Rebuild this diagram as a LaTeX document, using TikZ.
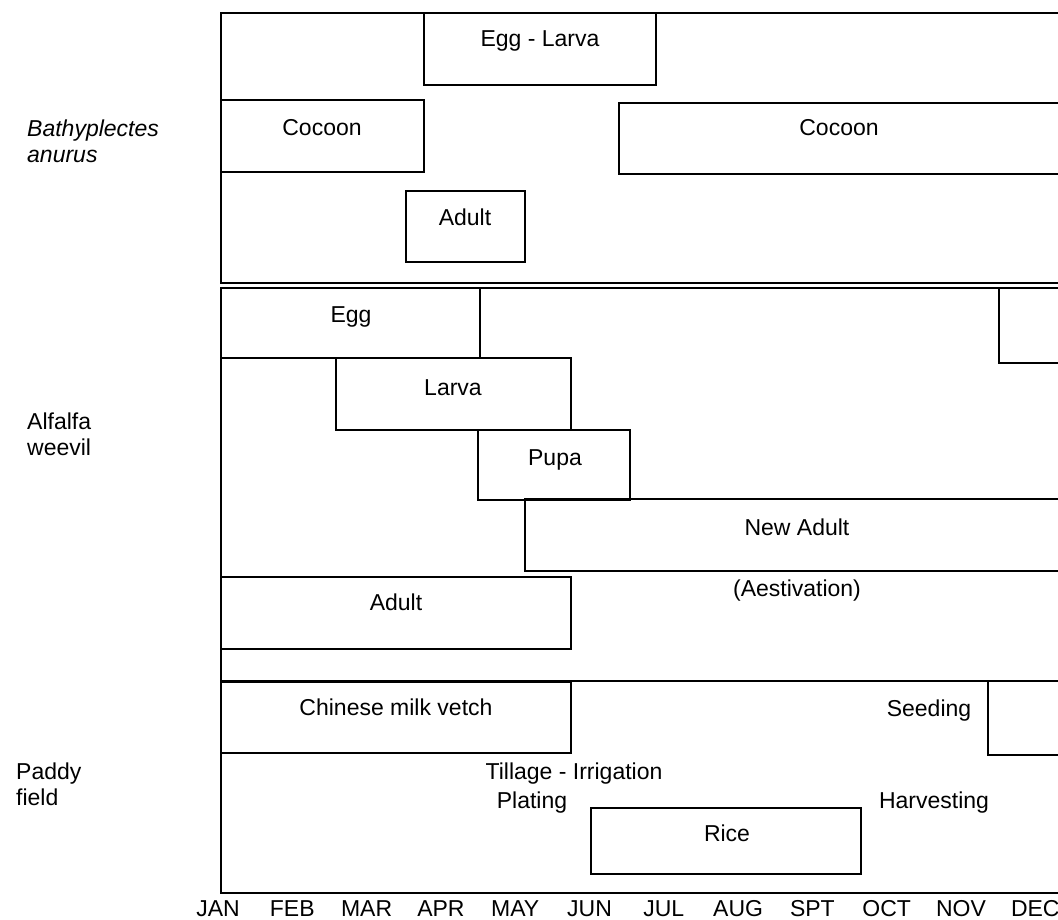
\documentclass[tikz,border=0pt]{standalone}
\usepackage{fontspec}
\setmainfont{Liberation Sans}
\begin{document}
\begin{tikzpicture}[x=1pt,y=-1pt,
  bar/.style={draw=black,line width=1.8pt},
  frame/.style={draw=black,line width=2pt},
  lbl/.style={anchor=base,inner sep=0pt,font=\fontsize{23}{26}\selectfont},
  side/.style={anchor=base west,inner sep=0pt,align=left,font=\fontsize{23}{26}\selectfont},
  month/.style={anchor=base,inner sep=0pt,font=\fontsize{23}{26}\selectfont}]
\useasboundingbox (0,0) rectangle (1058,920);
\clip (0,0) rectangle (1058,920);
% outer frames
\draw[frame] (221,13) rectangle (1075,283);
\draw[frame] (221,288) rectangle (1075,681);
\draw[frame] (221,681) rectangle (1075,893);
% Bathyplectes anurus
\draw[bar] (424,13) rectangle (656,85);
\draw[bar] (221,100) rectangle (424,172);
\draw[bar] (619,103) rectangle (1075,174);
\draw[bar] (406,191) rectangle (525,262);
\node[lbl] (eggLarva) at (540,47) {Egg - Larva};
\node[lbl] (cocoonA) at (322,136) {Cocoon};
\node[lbl] (cocoonB) at (839,136) {Cocoon};
\node[lbl] (adultB) at (465,226) {Adult};
% Alfalfa weevil
\draw[bar] (221,288) rectangle (480,358);
\draw[bar] (999,288) rectangle (1075,363);
\draw[bar] (336,358) rectangle (571,430);
\draw[bar] (478,430) rectangle (630,500);
\draw[bar] (525,499) rectangle (1075,571);
\draw[bar] (221,577) rectangle (571,649);
\node[lbl] (egg) at (351,322) {Egg};
\node[lbl] (larva) at (453,395) {Larva};
\node[lbl] (pupa) at (555,465) {Pupa};
\node[lbl] (newAdult) at (797,535) {New Adult};
\node[lbl] (aest) at (797,596) {(Aestivation)};
\node[lbl] (adultA) at (396,610) {Adult};
% Paddy field
\draw[bar] (221,682) rectangle (571,753);
\draw[bar] (988,681) rectangle (1075,755);
\draw[bar] (591,808) rectangle (861,874);
\node[lbl] (vetch) at (396,715) {Chinese milk vetch};
\node[lbl] (seeding) at (929,716) {Seeding};
\node[lbl] (tillage) at (574,779) {Tillage - Irrigation};
\node[lbl] (plating) at (532,808) {Plating};
\node[lbl] (rice) at (727,841) {Rice};
\node[lbl] (harvest) at (934,808) {Harvesting};
% side labels (base = baseline of last line)
\node[side] (bath) at (27,163) {\itshape Bathyplectes\\\itshape anurus};
\node[side] (alf) at (27,455) {Alfalfa\\weevil};
\node[side] (pad) at (16,805) {Paddy\\field};
% months
\foreach \m [count=\i from 0] in {JAN,FEB,MAR,APR,MAY,JUN,JUL,AUG,SPT,OCT,NOV,DEC}
  \node[month] (m\i) at (218+74.3*\i,916) {\m};
\end{tikzpicture}
\end{document}
